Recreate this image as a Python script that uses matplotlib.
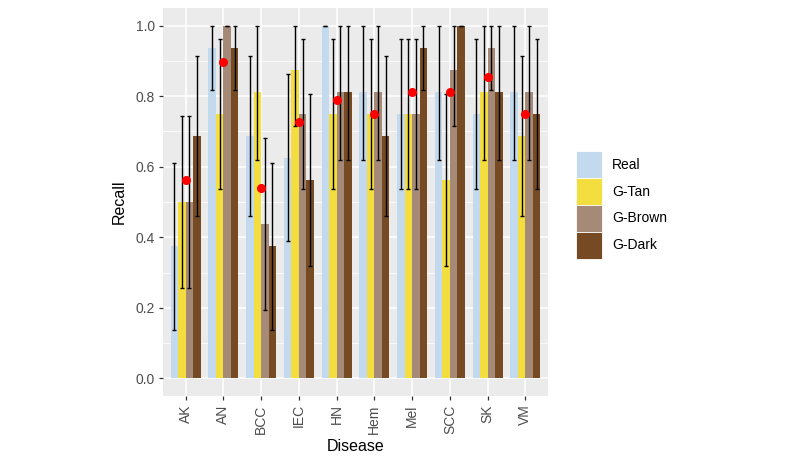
import numpy as np
import matplotlib
matplotlib.use("Agg")
import matplotlib.pyplot as plt
from matplotlib.patches import Patch

# Données
diseases = ["AK", "AN", "BCC", "IEC", "HN", "Hem", "Mel", "SCC", "SK", "VM"]
groups = ["Real", "G-Tan", "G-Brown", "G-Dark"]
colors = ["#C3DAEE", "#F4DE3F", "#A58A78", "#764A22"]

real = [0.375, 0.9375, 0.6875, 0.625, 1.0, 0.8125, 0.75, 0.8125, 0.75, 0.8125]
tan = [0.5, 0.75, 0.8125, 0.875, 0.75, 0.75, 0.75, 0.5625, 0.8125, 0.6875]
brown = [0.5, 1.0, 0.4375, 0.75, 0.8125, 0.8125, 0.75, 0.875, 0.9375, 0.8125]
dark = [0.6875, 0.9375, 0.375, 0.5625, 0.8125, 0.6875, 0.9375, 1.0, 0.8125, 0.75]

real_lo = [0.137, 0.818, 0.46, 0.389, 1.0, 0.62, 0.536, 0.62, 0.536, 0.62]
real_hi = [0.611, 1.0, 0.915, 0.863, 1.0, 1.0, 0.963, 1.0, 0.963, 1.0]
tan_lo = [0.257, 0.536, 0.62, 0.716, 0.536, 0.536, 0.536, 0.318, 0.62, 0.46]
tan_hi = [0.745, 0.963, 1.0, 1.0, 0.963, 0.963, 0.963, 0.806, 1.0, 0.915]
brown_lo = [0.257, 1.0, 0.194, 0.536, 0.62, 0.62, 0.536, 0.716, 0.818, 0.62]
brown_hi = [0.745, 1.0, 0.682, 0.963, 1.0, 1.0, 0.963, 1.0, 1.0, 1.0]
dark_lo = [0.46, 0.818, 0.137, 0.318, 0.62, 0.46, 0.818, 1.0, 0.62, 0.536]
dark_hi = [0.915, 1.0, 0.611, 0.806, 1.0, 0.915, 1.0, 1.0, 1.0, 0.963]

mean_recall = [0.5625, 0.896, 0.54, 0.728, 0.79, 0.75, 0.8125, 0.8125, 0.854, 0.75]

series = [(real, real_lo, real_hi), (tan, tan_lo, tan_hi),
          (brown, brown_lo, brown_hi), (dark, dark_lo, dark_hi)]

plt.rcParams["font.family"] = ["Liberation Sans", "DejaVu Sans"]

fig = plt.figure(figsize=(8, 4.63), dpi=100)
ax = fig.add_axes([163 / 800, 67 / 463, 385 / 800, 388 / 463])

x = np.arange(1, len(diseases) + 1)
bar_w = 0.2
for i, (vals, lo, hi) in enumerate(series):
    pos = x + (i - 1.5) * bar_w
    vals = np.array(vals)
    ax.bar(pos, vals, width=bar_w, color=colors[i], zorder=2)
    err = [vals - np.array(lo), np.array(hi) - vals]
    ax.errorbar(pos, vals, yerr=err, fmt="none", ecolor="black",
                elinewidth=1.0, capsize=1.6, capthick=1.0, zorder=3)

ax.plot(x, mean_recall, "o", color="red", markersize=5.5, zorder=4)

# style ggplot
ax.set_facecolor("#EBEBEB")
ax.set_xlim(0.4, 10.6)
ax.set_ylim(-0.05, 1.05)
ax.set_yticks([0, 0.2, 0.4, 0.6, 0.8, 1.0])
ax.set_yticks([0.1, 0.3, 0.5, 0.7, 0.9], minor=True)
ax.set_xticks(x)
ax.set_xticklabels(diseases, rotation=90)
ax.set_yticklabels(["0.0", "0.2", "0.4", "0.6", "0.8", "1.0"])
ax.grid(True, which="major", color="white", linewidth=1.1, zorder=0)
ax.grid(True, which="minor", axis="y", color="white", linewidth=0.55, zorder=0)
ax.set_axisbelow(True)
for s in ax.spines.values():
    s.set_visible(False)
ax.tick_params(axis="both", which="major", colors="#333333", length=3,
               width=0.9, labelsize=10, labelcolor="#4D4D4D", pad=3)
ax.tick_params(axis="y", which="minor", length=0)
ax.set_xlabel("Disease", fontsize=11.5, labelpad=4)
ax.set_ylabel("Recall", fontsize=11.5, labelpad=6)

# légende : carrés jointifs comme ggplot
handles = [Patch(facecolor=c, edgecolor="white", linewidth=0.6) for c in colors]
fig.legend(handles, groups, loc="upper left", bbox_to_anchor=(576 / 800, 1 - 151 / 463),
           frameon=False, fontsize=10, handlelength=1.87, handleheight=2.6,
           labelspacing=0.0, handletextpad=0.72, borderpad=0.0, borderaxespad=0.0)

fig.savefig("out.png", dpi=100)
